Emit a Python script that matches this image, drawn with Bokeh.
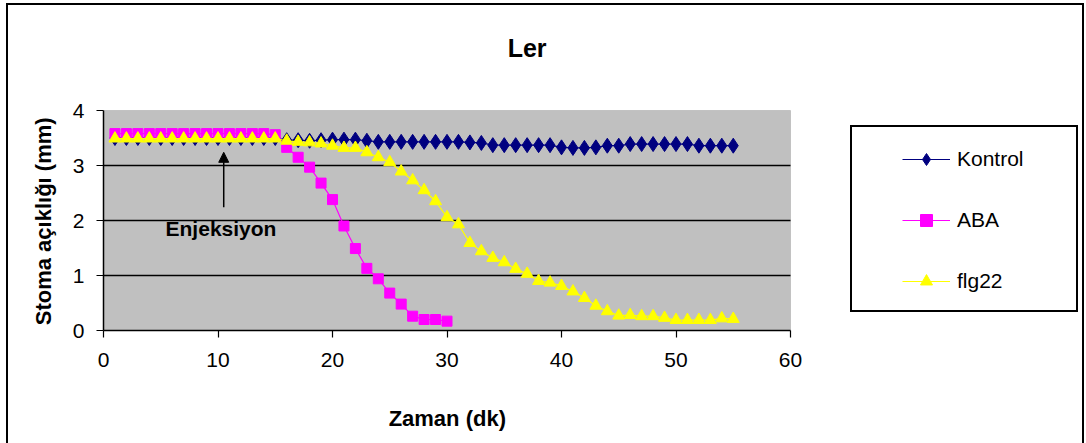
from bokeh.plotting import figure
from bokeh.models import (ColumnDataSource, Legend, LegendItem, FixedTicker, Label,
                          Arrow, NormalHead, BoxAnnotation)
from bokeh.embed import file_html
from bokeh.resources import INLINE

# ---------------- data ----------------
time_all = list(range(1, 56))
time_aba = list(range(1, 31))

kontrol = [3.50] * 15 + [3.46, 3.46, 3.45, 3.46, 3.47,
           3.47, 3.47, 3.45, 3.43, 3.43, 3.43, 3.43, 3.43, 3.43, 3.43,
           3.43, 3.42, 3.41, 3.37, 3.37, 3.37, 3.37, 3.37, 3.37, 3.33,
           3.32, 3.32, 3.33, 3.36, 3.36, 3.39, 3.39, 3.39, 3.39, 3.39,
           3.39, 3.36, 3.36, 3.36, 3.36]

aba = [3.58] * 14 + [3.56, 3.33, 3.15, 2.97, 2.68, 2.38,
       1.90, 1.49, 1.13, 0.94, 0.68, 0.48, 0.26, 0.20, 0.20, 0.17]

flg22 = [3.49] * 15 + [3.45, 3.43, 3.42, 3.40, 3.36,
         3.32, 3.32, 3.24, 3.15, 3.06, 2.89, 2.73, 2.55, 2.35, 2.06,
         1.93, 1.59, 1.44, 1.32, 1.24, 1.12, 1.03, 0.90, 0.87, 0.81,
         0.71, 0.59, 0.45, 0.35, 0.27, 0.28, 0.26, 0.26, 0.23, 0.19,
         0.19, 0.19, 0.19, 0.22, 0.21]

x_ticks = [0, 10, 20, 30, 40, 50, 60]
y_ticks = [0, 1, 2, 3, 4]
grid_y = [1, 2, 3]

FONT = "Liberation Sans"

# ---------------- layout (pixels) ----------------
W, H = 1086, 443
AREA_L, AREA_R, AREA_T, AREA_B = 103, 790, 110, 330   # plotting area in the picture
FRAME_T, FRAME_R = 20, 1084                             # frame extends over title/legend
xmin, xmax = x_ticks[0], x_ticks[-1]
ymin, ymax = y_ticks[0], y_ticks[-1]
px_x = (AREA_R - AREA_L) / (xmax - xmin)
px_y = (AREA_B - AREA_T) / (ymax - ymin)
x_end = xmin + (FRAME_R - AREA_L) / px_x
y_end = ymin + (AREA_B - FRAME_T) / px_y

# axis titles are centred on the frame; trailing no-break spaces move the visible
# text back to the centre of the plotting area
NBSP = "\u00a0"
x_title = "Zaman (dk)" + NBSP * 48
y_title = "Stoma açıklığı (mm)" + NBSP * 15

# outer chart border and legend box, drawn as CSS lines behind a transparent canvas
lines = [  # (left, top, width, height)
    (6, 3, 1078, 2), (6, 3, 2, 460), (1082, 3, 2, 460),
    (850, 125, 228, 2), (850, 310, 228, 2), (850, 125, 2, 187), (1076, 125, 2, 187),
]
css = {
    "background-color": "white",
    "background-image": ", ".join(["linear-gradient(#000, #000)"] * len(lines)),
    "background-size": ", ".join(f"{w}px {h}px" for (_, _, w, h) in lines),
    "background-position": ", ".join(f"{l}px {t}px" for (l, t, _, _) in lines),
    "background-repeat": "no-repeat",
}

p = figure(width=W, height=H, output_backend="svg", toolbar_location=None,
           x_range=(xmin, x_end), y_range=(ymin, y_end),
           min_border_left=AREA_L, min_border_right=W - FRAME_R,
           min_border_top=FRAME_T, min_border_bottom=H - AREA_B,
           styles=css)

p.background_fill_alpha = 0
p.border_fill_alpha = 0
p.outline_line_color = None

# grey plotting area with grey top/right edge
p.add_layout(BoxAnnotation(left=xmin, right=xmax, bottom=ymin, top=ymax,
                           fill_color="#C0C0C0", fill_alpha=1,
                           line_color="#808080", line_width=1, level="underlay"))

# axes
for ax in (p.xaxis[0], p.yaxis[0]):
    ax.axis_line_color = "black"
    ax.axis_line_width = 1.5
    ax.major_tick_line_color = "black"
    ax.major_tick_line_width = 1.2
    ax.major_tick_in = 0
    ax.major_tick_out = 7
    ax.minor_tick_line_color = None
    ax.major_label_text_font = FONT
    ax.major_label_text_font_size = "21px"
    ax.major_label_text_color = "black"
    ax.axis_label_text_font = FONT
    ax.axis_label_text_font_size = "22px"
    ax.axis_label_text_font_style = "bold"
    ax.axis_label_text_color = "black"

p.xaxis.ticker = FixedTicker(ticks=x_ticks)
p.yaxis.ticker = FixedTicker(ticks=y_ticks)
p.xaxis.bounds = (xmin, xmax)
p.yaxis.bounds = (ymin, ymax)
p.xaxis.major_label_standoff = 15
p.yaxis.major_label_standoff = 12
p.xaxis.axis_label = x_title
p.yaxis.axis_label = y_title
p.xaxis.axis_label_standoff = 36
p.yaxis.axis_label_standoff = 14

p.xgrid.visible = False
p.ygrid.visible = False
# horizontal gridlines only across the plotting area
p.segment(x0=[xmin] * len(grid_y), x1=[xmax] * len(grid_y), y0=grid_y, y1=grid_y,
          line_color="black", line_width=1.5)

# series
src_k = ColumnDataSource(dict(x=time_all, y=kontrol))
src_a = ColumnDataSource(dict(x=time_aba, y=aba))
src_f = ColumnDataSource(dict(x=time_all, y=flg22))

lk = p.line("x", "y", source=src_k, line_color="#000080", line_width=1.2)
sk = p.scatter("x", "y", source=src_k, marker="diamond", size=15,
               fill_color="#000080", line_color="#000080")
la = p.line("x", "y", source=src_a, line_color="#FF00FF", line_width=1.2)
sa = p.scatter("x", "y", source=src_a, marker="square", size=10,
               fill_color="#FF00FF", line_color="#FF00FF")
lf = p.line("x", "y", source=src_f, line_color="#FFFF00", line_width=1.2)
sf = p.scatter("x", "y", source=src_f, marker="triangle", size=12,
               fill_color="#FFFF00", line_color="#FFFF00")

# injection annotation
p.add_layout(Arrow(end=NormalHead(size=10, fill_color="black", line_color="black"),
                   x_start=10.5, y_start=2.24, x_end=10.5, y_end=3.24,
                   line_color="black", line_width=1.5))
p.add_layout(Label(x=10.26, y=1.86, text="Enjeksiyon", text_font=FONT,
                   text_font_size="21px", text_font_style="bold",
                   text_align="center", text_baseline="alphabetic", text_color="black"))

# chart title
p.add_layout(Label(x=37.0, y=5.13, text="Ler", text_font=FONT,
                   text_font_size="25px", text_font_style="bold",
                   text_align="center", text_baseline="alphabetic", text_color="black"))

legend = Legend(items=[LegendItem(label="Kontrol", renderers=[lk, sk]),
                       LegendItem(label="ABA", renderers=[la, sa]),
                       LegendItem(label="flg22", renderers=[lf, sf])],
                location=(799, 34), orientation="vertical",
                glyph_width=48, glyph_height=30, label_height=30,
                spacing=31, padding=5, margin=0, label_standoff=7,
                label_text_font=FONT, label_text_font_size="21px",
                label_text_color="black",
                border_line_color=None, background_fill_alpha=0)
p.add_layout(legend, "center")

open("out.html", "w").write(file_html(p, INLINE))
